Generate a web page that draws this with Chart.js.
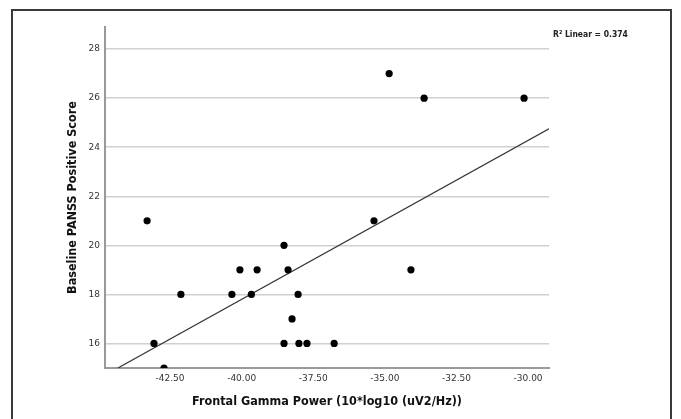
<!DOCTYPE html>
<html>
<head>
<meta charset="utf-8">
<script src="https://cdn.jsdelivr.net/npm/chart.js@4/dist/chart.umd.min.js"></script>
<style>
  html, body { margin: 0; padding: 0; background: #fff; }
  #wrap { position: relative; width: 681px; height: 419px; overflow: hidden; }
  #frame {
    position: absolute; left: 11px; top: 9px; width: 661px; height: 430px;
    border: 2px solid #3a3a3a; box-sizing: border-box;
  }
  canvas { position: absolute; left: 0; top: 0; }
</style>
</head>
<body>
<div id="wrap">
  <div id="frame"></div>
  <canvas id="chart" width="681" height="419"></canvas>
</div>
<script>
// values
const gammaPower = [
  -43.30, -43.06, -42.71, -42.12, -40.34, -40.06, -39.66, -39.46, -38.52, -38.52, -38.38,
  -38.24, -38.03, -38.00, -37.72, -36.77, -35.38, -34.85, -34.09, -33.63, -30.14
];
const panssScore = [
  21, 16, 15, 18, 18, 19, 18, 19, 20, 16, 19,
  17, 18, 16, 16, 16, 21, 27, 19, 26, 26
];
// fit line end points (clipped at the plot edges)
const fitX = [-44.32, -29.27];
const fitY = [15, 24.75];
const xTicks = [-42.5, -40, -37.5, -35, -32.5, -30];
const yTicks = [16, 18, 20, 22, 24, 26, 28];
const rSquared = "R² Linear = 0.374";

const tickFont = { family: "DejaVu Sans", size: 9 };
const titleFont = { family: "DejaVu Sans Condensed", size: 12.5, weight: "bold" };

const rLabel = {
  id: "rLabel",
  afterDraw(chart) {
    const ctx = chart.ctx;
    ctx.save();
    ctx.font = "bold 8.5px 'DejaVu Sans Condensed'";
    ctx.fillStyle = "#222";
    ctx.textBaseline = "middle";
    ctx.fillText(rSquared, 553, 35);
    ctx.restore();
  },
};

new Chart(document.getElementById("chart"), {
  type: "scatter",
  data: {
    datasets: [
      {
        data: gammaPower.map((x, i) => ({ x, y: panssScore[i] })),
        backgroundColor: "#000",
        borderWidth: 0,
        pointRadius: 3.6,
      },
      {
        type: "line",
        data: fitX.map((x, i) => ({ x, y: fitY[i] })),
        borderColor: "#333",
        borderWidth: 1.2,
        pointRadius: 0,
        fill: false,
      },
    ],
  },
  options: {
    responsive: false,
    animation: false,
    events: [],
    layout: { padding: { left: 61, top: 27, right: 132, bottom: 6 } },
    plugins: { legend: { display: false }, tooltip: { enabled: false } },
    scales: {
      x: {
        type: "linear",
        min: -44.77,
        max: -29.27,
        afterBuildTicks: (s) => { s.ticks = xTicks.map((v) => ({ value: v })); },
        afterFit: (s) => { s.height = 45; },
        grid: { display: false, drawTicks: false },
        border: { color: "#999", width: 2 },
        ticks: {
          font: tickFont,
          color: "#333",
          padding: 5,
          maxRotation: 0,
          callback: (v) => Number(v).toFixed(2),
        },
        title: {
          display: true,
          text: "Frontal Gamma Power (10*log10 (uV2/Hz))",
          font: titleFont,
          color: "#111",
        },
      },
      y: {
        min: 15,
        max: 28.9,
        afterBuildTicks: (s) => { s.ticks = yTicks.map((v) => ({ value: v })); },
        afterFit: (s) => { s.width = 44; },
        grid: { color: "#d0d0d0", lineWidth: 1.5, drawTicks: false },
        border: { color: "#999", width: 2 },
        ticks: { font: tickFont, color: "#333", padding: 5 },
        title: {
          display: true,
          text: "Baseline PANSS Positive Score",
          font: titleFont,
          color: "#111",
        },
      },
    },
  },
  plugins: [rLabel],
});
</script>
</body>
</html>
